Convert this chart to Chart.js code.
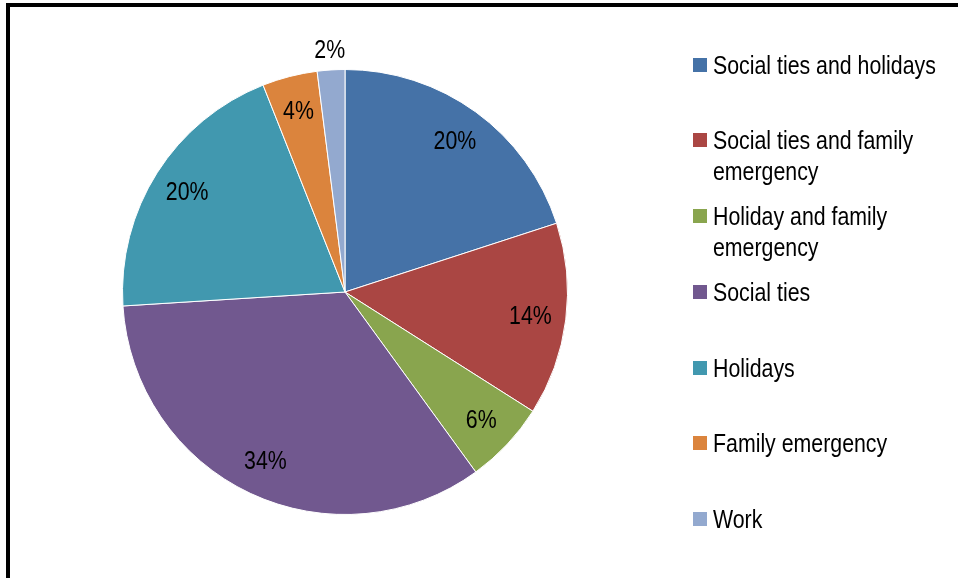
<!DOCTYPE html>
<html>
<head>
<meta charset="utf-8">
<script src="https://cdn.jsdelivr.net/npm/chart.js@4/dist/chart.umd.min.js"></script>
<style>
    html, body { margin: 0; padding: 0; background: #fff; }
    body { width: 958px; height: 578px; position: relative; overflow: hidden;
           font-family: "Liberation Sans", Arial, sans-serif; }
    #frame { position: absolute; left: 6px; top: 3px; width: 1000px; height: 700px;
             border-top: 4px solid #000; border-left: 4px solid #000; }
    #chartBox { position: absolute; left: 0; top: 0; width: 958px; height: 578px; }
    .item { position: absolute; left: 693px; font-size: 26px; line-height: 31px; color: #000; }
    .item .box { position: absolute; left: 0; top: 8px; width: 14px; height: 14px; }
    /* no narrow face installed: squeeze the regular one */
    .item .txt { margin-left: 20px; white-space: nowrap; transform: scaleX(0.82); transform-origin: 0 0; }
</style>
</head>
<body>
<div id="frame"></div>
<div id="chartBox"><canvas id="pieChart" width="958" height="578"></canvas></div>
<div id="legend"></div>
<script>
const labels = [
    ["Social ties and holidays"],
    ["Social ties and family", "emergency"],
    ["Holiday and family", "emergency"],
    ["Social ties"],
    ["Holidays"],
    ["Family emergency"],
    ["Work"]
];
const shares = [20, 14, 6, 34, 20, 4, 2];
const colors = ["#4572A7", "#AA4643", "#89A54E", "#71588F", "#4198AF", "#DB843D", "#93A9CF"];
const legendTops = [50, 125, 201, 277, 353, 428, 504];

// percentage labels, Excel "best fit": small slice goes outside
const pctLabels = {
    id: "pctLabels",
    afterDatasetsDraw(chart) {
        const ctx = chart.ctx;
        const meta = chart.getDatasetMeta(0);
        ctx.font = "26px 'Liberation Sans', Arial, sans-serif";
        ctx.fillStyle = "#000";
        ctx.textAlign = "center";
        ctx.textBaseline = "middle";
        meta.data.forEach((arc, i) => {
            const p = arc.getProps(["x", "y", "startAngle", "endAngle", "outerRadius"], true);
            const mid = (p.startAngle + p.endAngle) / 2;
            const r = shares[i] < 3 ? p.outerRadius * 1.09 : p.outerRadius * 0.84;
            ctx.save();
            ctx.translate(p.x + Math.cos(mid) * r, p.y + Math.sin(mid) * r);
            ctx.scale(0.82, 1);
            ctx.fillText(shares[i] + "%", 0, 1);
            ctx.restore();
        });
    }
};

new Chart(document.getElementById("pieChart").getContext("2d"), {
    type: "pie",
    data: {
        labels: labels.map(l => l.join(" ")),
        datasets: [{ data: shares, backgroundColor: colors, borderColor: "#fff", borderWidth: 1, hoverOffset: 0 }]
    },
    options: {
        responsive: false,
        animation: false,
        layout: { padding: { left: 122, right: 390, top: 69, bottom: 63 } },
        plugins: { legend: { display: false }, tooltip: { enabled: false } }
    },
    plugins: [pctLabels]
});

const legend = document.getElementById("legend");
labels.forEach((l, i) => {
    const item = document.createElement("div");
    item.className = "item";
    item.style.top = legendTops[i] + "px";
    item.innerHTML = `<span class="box" style="background:${colors[i]}"></span><div class="txt">${l.join("<br>")}</div>`;
    legend.appendChild(item);
});
</script>
</body>
</html>
